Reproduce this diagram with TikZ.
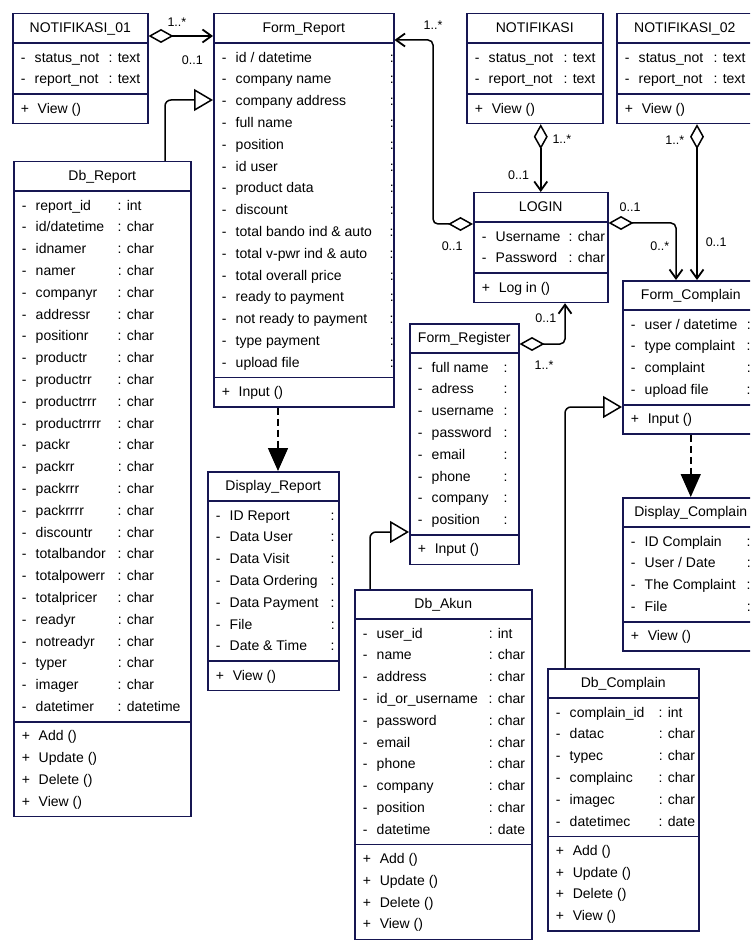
\documentclass[tikz,border=0pt]{standalone}
\usepackage{fontspec}
\setmainfont{Liberation Sans}
\usetikzlibrary{shapes.multipart, arrows.meta, positioning}
\definecolor{umlnavy}{RGB}{22, 22, 82}

\newcommand{\clsname}[2]{\begin{tabular}{@{}c@{}}\makebox[#1]{#2}\end{tabular}}
\newenvironment{clsattr}[1]{\begin{tabular}{@{\hspace{8pt}}p{14pt}@{}p{#1}@{}l@{}}}{\end{tabular}}
\newenvironment{clsops}{\begin{tabular}{@{\hspace{8pt}}p{17pt}@{}l@{}}}{\end{tabular}}

\begin{document}
\begin{tikzpicture}[x=1pt, y=-1pt,
  umlclass/.style={rectangle split, rectangle split parts=3, rectangle split part align={left},
    draw=umlnavy, line width=1.5pt, inner xsep=0pt, inner ysep=3pt, anchor=north west,
    font=\fontsize{14}{21.8}\selectfont},
  mult/.style={font=\fontsize{12.5}{14}\selectfont, inner sep=1pt},
  aggrlink/.style={line width=1.5pt, rounded corners=5pt,
    {Diamond[open, length=25pt, width=14pt]}-{Straight Barb[length=9pt, width=13pt, line width=1.8pt]}},
  genlink/.style={line width=1.5pt, rounded corners=6pt, -{Triangle[open, length=19pt, width=22pt]}},
  deplink/.style={line width=1.5pt, dash pattern=on 7pt off 4pt, -{Triangle[length=23pt, width=20pt]}}
]
\path[use as bounding box, fill=white] (0,0) rectangle (750,941);
\clip (0,0) rectangle (750,941);

% notifications
\node[umlclass] (notifone) at (12,13) {\clsname{135pt}{NOTIFIKASI\_01}
  \nodepart{second}\begin{clsattr}{74pt}
    - & status\_not & : text\\
    - & report\_not & : text
  \end{clsattr}
  \nodepart{third}\begin{clsops} + & View () \end{clsops}};

\node[umlclass] (notifmain) at (466,13) {\clsname{136pt}{NOTIFIKASI}
  \nodepart{second}\begin{clsattr}{75pt}
    - & status\_not & : text\\
    - & report\_not & : text
  \end{clsattr}
  \nodepart{third}\begin{clsops} + & View () \end{clsops}};

\node[umlclass] (notiftwo) at (616,13) {\clsname{136pt}{NOTIFIKASI\_02}
  \nodepart{second}\begin{clsattr}{75pt}
    - & status\_not & : text\\
    - & report\_not & : text
  \end{clsattr}
  \nodepart{third}\begin{clsops} + & View () \end{clsops}};

% report side
\node[umlclass] (formreport) at (213,13) {\clsname{180pt}{Form\_Report}
  \nodepart{second}\begin{clsattr}{154pt}
    - & id / datetime & :\\
    - & company name & :\\
    - & company address & :\\
    - & full name & :\\
    - & position & :\\
    - & id user & :\\
    - & product data & :\\
    - & discount & :\\
    - & total bando ind \& auto & :\\
    - & total v-pwr ind \& auto & :\\
    - & total overall price & :\\
    - & ready to payment & :\\
    - & not ready to payment & :\\
    - & type payment & :\\
    - & upload file & :
  \end{clsattr}
  \nodepart{third}\begin{clsops} + & Input () \end{clsops}};

\node[umlclass] (dbreport) at (13,161) {\clsname{177pt}{Db\_Report}
  \nodepart{second}\begin{clsattr}{82pt}
    - & report\_id & : int\\
    - & id/datetime & : char\\
    - & idnamer & : char\\
    - & namer & : char\\
    - & companyr & : char\\
    - & addressr & : char\\
    - & positionr & : char\\
    - & productr & : char\\
    - & productrr & : char\\
    - & productrrr & : char\\
    - & productrrrr & : char\\
    - & packr & : char\\
    - & packrr & : char\\
    - & packrrr & : char\\
    - & packrrrr & : char\\
    - & discountr & : char\\
    - & totalbandor & : char\\
    - & totalpowerr & : char\\
    - & totalpricer & : char\\
    - & readyr & : char\\
    - & notreadyr & : char\\
    - & typer & : char\\
    - & imager & : char\\
    - & datetimer & : datetime
  \end{clsattr}
  \nodepart{third}\begin{clsops}
    + & Add ()\\
    + & Update ()\\
    + & Delete ()\\
    + & View ()
  \end{clsops}};

\node[umlclass] (dispreport) at (207,471) {\clsname{131pt}{Display\_Report}
  \nodepart{second}\begin{clsattr}{101pt}
    - & ID Report & :\\
    - & Data User & :\\
    - & Data Visit & :\\
    - & Data Ordering & :\\
    - & Data Payment & :\\
    - & File & :\\
    - & Date \& Time & :
  \end{clsattr}
  \nodepart{third}\begin{clsops} + & View () \end{clsops}};

% account side
\node[umlclass] (login) at (473,192) {\clsname{134pt}{LOGIN}
  \nodepart{second}\begin{clsattr}{73pt}
    - & Username & : char\\
    - & Password & : char
  \end{clsattr}
  \nodepart{third}\begin{clsops} + & Log in () \end{clsops}};

\node[umlclass] (formregister) at (409,323) {\clsname{109pt}{Form\_Register}
  \nodepart{second}\begin{clsattr}{72pt}
    - & full name & :\\
    - & adress & :\\
    - & username & :\\
    - & password & :\\
    - & email & :\\
    - & phone & :\\
    - & company & :\\
    - & position & :
  \end{clsattr}
  \nodepart{third}\begin{clsops} + & Input () \end{clsops}};

\node[umlclass] (dbakun) at (354,589) {\clsname{177pt}{Db\_Akun}
  \nodepart{second}\begin{clsattr}{112pt}
    - & user\_id & : int\\
    - & name & : char\\
    - & address & : char\\
    - & id\_or\_username & : char\\
    - & password & : char\\
    - & email & : char\\
    - & phone & : char\\
    - & company & : char\\
    - & position & : char\\
    - & datetime & : date
  \end{clsattr}
  \nodepart{third}\begin{clsops}
    + & Add ()\\
    + & Update ()\\
    + & Delete ()\\
    + & View ()
  \end{clsops}};

% complain side
\node[umlclass] (formcomplain) at (622,280) {\clsname{136pt}{Form\_Complain}
  \nodepart{second}\begin{clsattr}{102pt}
    - & user / datetime & :\\
    - & type complaint & :\\
    - & complaint & :\\
    - & upload file & :
  \end{clsattr}
  \nodepart{third}\begin{clsops} + & Input () \end{clsops}};

\node[umlclass] (dispcomplain) at (622,497) {\clsname{136pt}{Display\_Complain}
  \nodepart{second}\begin{clsattr}{102pt}
    - & ID Complain & :\\
    - & User / Date & :\\
    - & The Complaint & :\\
    - & File & :
  \end{clsattr}
  \nodepart{third}\begin{clsops} + & View () \end{clsops}};

\node[umlclass] (dbcomplain) at (547,668) {\clsname{151pt}{Db\_Complain}
  \nodepart{second}\begin{clsattr}{89pt}
    - & complain\_id & : int\\
    - & datac & : char\\
    - & typec & : char\\
    - & complainc & : char\\
    - & imagec & : char\\
    - & datetimec & : date
  \end{clsattr}
  \nodepart{third}\begin{clsops}
    + & Add ()\\
    + & Update ()\\
    + & Delete ()\\
    + & View ()
  \end{clsops}};

% aggregations
\draw[aggrlink] ([yshift=-23pt]notifone.north east)
  -- node[mult, pos=0.44, above=8pt] {1..*} node[mult, pos=0.68, below=18pt] {0..1}
  ([yshift=-23pt]formreport.north west);
\draw[aggrlink] ([yshift=-32pt]login.north west)
  -- node[mult, pos=0.52, below=16pt] {0..1} ++(-40,0)
  |- node[mult, pos=0.5, above=9pt] {1..*} ([yshift=-27pt]formreport.north east);
\draw[aggrlink] (notifmain.south -| login.north)
  -- node[mult, pos=0.22, right=10pt] {1..*} node[mult, pos=0.75, left=10pt] {0..1} (login.north);
\draw[aggrlink] ([yshift=-31pt]login.north east)
  -| node[mult, pos=0.16, above=10pt] {0..1} node[mult, pos=0.7, left=5pt] {0..*}
  ([xshift=54pt]formcomplain.north west);
\coordinate (ntwoout) at ([xshift=81pt]notiftwo.south west);
\draw[aggrlink] (ntwoout)
  -- node[mult, pos=0.1, left=11pt] {1..*} node[mult, pos=0.76, right=7pt] {0..1}
  (ntwoout |- formcomplain.north);
\draw[aggrlink] ([yshift=-21pt]formregister.north east)
  -| node[mult, pos=0.27, below=15pt] {1..*} node[mult, pos=0.82, left=7pt] {0..1}
  ([xshift=92pt]login.south west);

% generalizations
\draw[genlink] ([xshift=152pt]dbreport.north west) |- ([yshift=-87pt]formreport.north west);
\draw[genlink] ([xshift=16pt]dbakun.north west) |- ([yshift=-209pt]formregister.north west);
\draw[genlink] ([xshift=18pt]dbcomplain.north west) |- ([yshift=-127pt]formcomplain.north west);

% dependencies
\coordinate (frout) at ([xshift=65pt]formreport.south west);
\draw[deplink] (frout) -- (frout |- dispreport.north);
\draw[deplink] (formcomplain.south) -- (dispcomplain.north);
\end{tikzpicture}
\end{document}
